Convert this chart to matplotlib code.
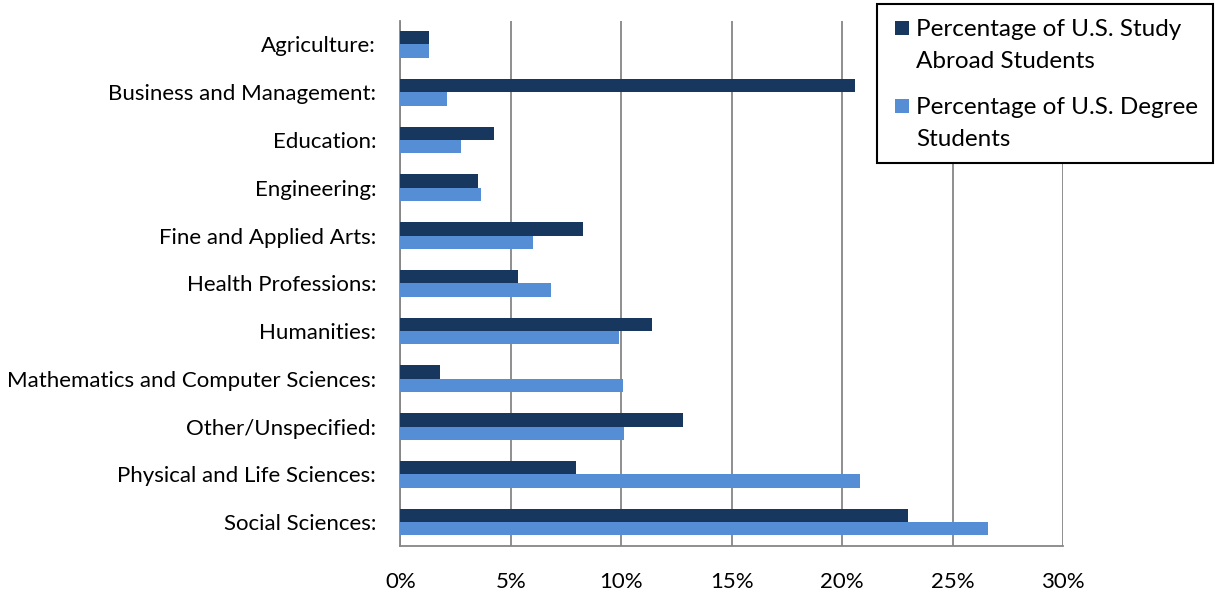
import matplotlib
matplotlib.use("Agg")
import matplotlib.pyplot as plt
from matplotlib.patches import Rectangle
import numpy as np

categories = ["Agriculture:", "Business and Management:", "Education:", "Engineering:",
              "Fine and Applied Arts:", "Health Professions:", "Humanities:",
              "Mathematics and Computer Sciences:", "Other/Unspecified:",
              "Physical and Life Sciences:", "Social Sciences:"]
study_abroad = [1.31, 20.57, 4.22, 3.51, 8.25, 5.3, 11.4, 1.8, 12.8, 7.93, 23.0]
degree = [1.28, 2.12, 2.74, 3.66, 6.0, 6.8, 9.9, 10.06, 10.1, 20.8, 26.6]
series_names = ["Percentage of U.S. Study\nAbroad Students",
                "Percentage of U.S. Degree\nStudents"]
xticks = [0, 5, 10, 15, 20, 25, 30]
xtick_labels = ["0%", "5%", "10%", "15%", "20%", "25%", "30%"]

plt.rcParams['font.family'] = ['Lato', 'DejaVu Sans']

W, H = 1215, 594
fig = plt.figure(figsize=(W / 100, H / 100), dpi=100)
ax = fig.add_axes([400.5 / W, 1 - 546 / H, (1063 - 400.5) / W, (546 - 20.6) / H])

y = np.arange(len(categories))
h = 0.28
dark = "#17375E"
light = "#558ED5"
colors = [dark, light]
ax.barh(y - h / 2, study_abroad, height=h, color=dark, zorder=3)
ax.barh(y + h / 2, degree, height=h, color=light, zorder=3)

ax.set_ylim(len(categories) - 0.5, -0.5)
ax.set_xlim(0, 30)
ax.set_yticks(y)
ax.set_yticklabels(categories, fontsize=16, color="#000000")
ax.set_xticks(xticks)
ax.set_xticklabels(xtick_labels, fontsize=16)
ax.tick_params(axis='both', length=0)
ax.tick_params(axis='x', pad=18.5)
ax.tick_params(axis='y', pad=17.6)
ax.grid(axis='x', color="#868686", linewidth=1.3, zorder=0)
for s in ["top", "right"]:
    ax.spines[s].set_visible(False)
for s in ["left", "bottom"]:
    ax.spines[s].set_color("#868686")
    ax.spines[s].set_linewidth(1.3)

# Manual legend (pixel layout converted to figure fraction)
def fx(px):
    return px / W

def fy(py):
    return 1 - py / H

box = Rectangle((fx(877), fy(163)), fx(1213) - fx(877), fy(4) - fy(163),
                transform=fig.transFigure, facecolor="white", edgecolor="black",
                linewidth=1.5, zorder=5)
fig.patches.append(box)
square_tops = [21, 99]
baselines = [36, 114]
line_gap = 32
for i, name in enumerate(series_names):
    sq = Rectangle((fx(895), fy(square_tops[i] + 14)), fx(909) - fx(895), fy(0) - fy(14),
                   transform=fig.transFigure, facecolor=colors[i], edgecolor="none", zorder=6)
    fig.patches.append(sq)
    for j, line in enumerate(name.split("\n")):
        fig.text(fx(916), fy(baselines[i] + j * line_gap), line, fontsize=17.5,
                 va="baseline", ha="left", zorder=7)

fig.savefig("out.png", dpi=100)
